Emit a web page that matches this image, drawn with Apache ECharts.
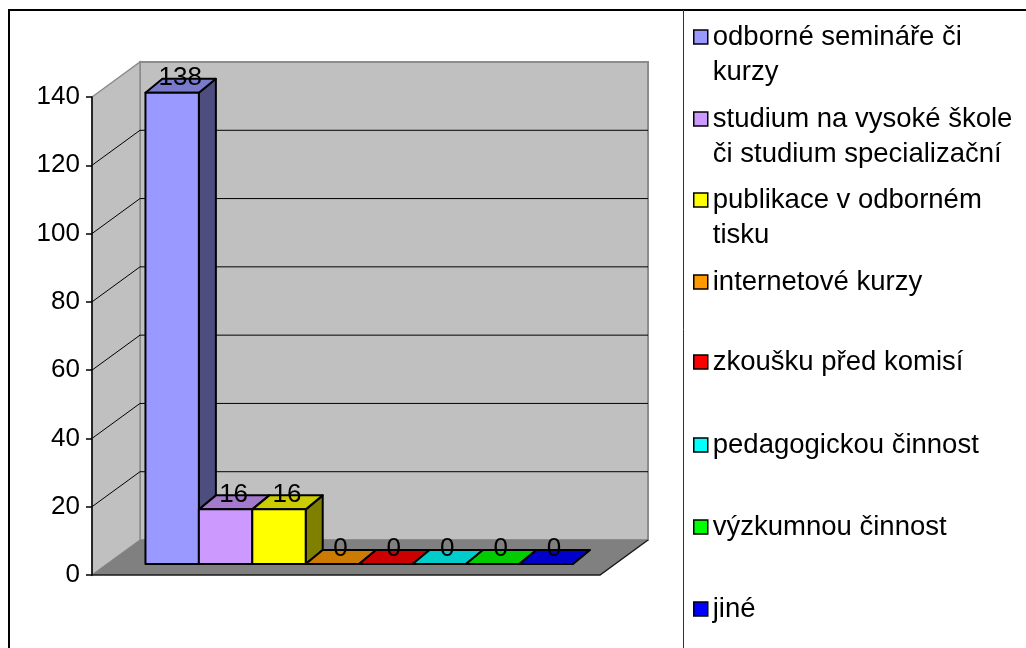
<!DOCTYPE html>
<html>
<head>
<meta charset="utf-8">
<script src="https://cdn.jsdelivr.net/npm/echarts@6/dist/echarts.min.js"></script>
<style>
  html, body { margin: 0; padding: 0; background: #fff; }
  #chart { width: 1026px; height: 648px; }
</style>
</head>
<body>
<div id="chart"></div>
<script>
var categories = [
  'odborné semináře či kurzy',
  'studium na vysoké škole či studium specializační',
  'publikace v odborném tisku',
  'internetové kurzy',
  'zkoušku před komisí',
  'pedagogickou činnost',
  'výzkumnou činnost',
  'jiné'
]
var legendLabels = [
  'odborné semináře či\nkurzy',
  'studium na vysoké škole\nči studium specializační',
  'publikace v odborném\ntisku',
  'internetové kurzy',
  'zkoušku před komisí',
  'pedagogickou činnost',
  'výzkumnou činnost',
  'jiné'
]
var values = [138, 16, 16, 0, 0, 0, 0, 0]
var colors = ['#9999FF', '#CC99FF', '#FFFF00', '#FF9900', '#FF0000', '#00FFFF', '#00FF00', '#0000FF']
var yTicks = [0, 20, 40, 60, 80, 100, 120, 140]

var FONT = 'Liberation Sans, Arial, sans-serif'
var DEPTH = [48, -35]   // full depth of the floor / walls
var PLANE = [15, -11]   // where the bar fronts sit
var BAR_DEPTH = [17, -14]

function shade(hex, k) {
  var c = echarts.color.parse(hex)
  return 'rgb(' + Math.round(c[0] * k) + ',' + Math.round(c[1] * k) + ',' + Math.round(c[2] * k) + ')'
}

function renderWalls(params, api) {
  var cs = params.coordSys
  var x0 = cs.x, x1 = cs.x + cs.width
  var yb = api.coord([0, 0])[1]
  var yt = api.coord([0, 140])[1]
  var dx = DEPTH[0], dy = DEPTH[1]
  var kids = []
  // back wall
  kids.push({ type: 'rect', shape: { x: x0 + dx, y: yt + dy, width: cs.width, height: yb - yt },
    style: { fill: '#c0c0c0', stroke: '#8c8c8c', lineWidth: 2 } })
  // left wall
  kids.push({ type: 'polygon', shape: { points: [[x0, yt], [x0 + dx, yt + dy], [x0 + dx, yb + dy], [x0, yb]] },
    style: { fill: '#c0c0c0', stroke: '#8c8c8c', lineWidth: 1.5 } })
  // floor
  kids.push({ type: 'polygon', shape: { points: [[x0, yb], [x0 + dx, yb + dy], [x1 + dx, yb + dy], [x1, yb]] },
    style: { fill: '#808080', stroke: null } })
  kids.push({ type: 'polyline', shape: { points: [[x0, yb], [x1, yb], [x1 + dx, yb + dy]] },
    style: { stroke: '#1a1a1a', lineWidth: 1.5, fill: null } })
  yTicks.forEach(function (t) {
    if (t === 0 || t === 140) return
    var y = api.coord([0, t])[1]
    kids.push({ type: 'polyline', shape: { points: [[x0, y], [x0 + dx, y + dy], [x1 + dx, y + dy]] },
      style: { stroke: '#000', lineWidth: 1, fill: null } })
  })
  return { type: 'group', children: kids }
}

function makeBarRenderer(color) {
  return function (params, api) {
    var i = api.value(0), v = api.value(1)
    var w = api.size([1, 0])[0]
    var b = api.coord([i, 0]), t = api.coord([i, v])
    var l = b[0] - w / 2 + PLANE[0], r = b[0] + w / 2 + PLANE[0]
    var yb = b[1] + PLANE[1], yt = t[1] + PLANE[1]
    var bx = BAR_DEPTH[0], by = BAR_DEPTH[1]
    var st = { stroke: '#000', lineWidth: 2, lineJoin: 'round' }
    var kids = []
    kids.push({ type: 'polygon', shape: { points: [[r, yt], [r + bx, yt + by], [r + bx, yb + by], [r, yb]] },
      style: Object.assign({ fill: shade(color, 0.5) }, st) })
    kids.push({ type: 'polygon', shape: { points: [[l, yt], [l + bx, yt + by], [r + bx, yt + by], [r, yt]] },
      style: Object.assign({ fill: shade(color, 0.8) }, st) })
    if (yb - yt > 0.5) {
      kids.push({ type: 'rect', shape: { x: l, y: yt, width: r - l, height: yb - yt },
        style: Object.assign({ fill: color }, st) })
    }
    kids.push({ type: 'text', style: {
      text: String(v), x: (l + r) / 2 + 8, y: yt + by - 1,
      align: 'center', verticalAlign: 'middle',
      fontSize: 26, fontFamily: FONT, fill: '#000'
    } })
    return { type: 'group', children: kids }
  }
}

var series = [{
  name: 'walls', type: 'custom', renderItem: renderWalls, data: [[0, 0]],
  clip: false, silent: true, z: 1
}]
categories.forEach(function (name, i) {
  series.push({
    name: name, type: 'custom', renderItem: makeBarRenderer(colors[i]),
    data: [[i, values[i]]], clip: false, z: 2,
    itemStyle: { color: colors[i] }
  })
})

var legendCenters = [37, 119, 200, 282, 362, 445, 527, 609]
var legends = categories.map(function (name, i) {
  var twoLine = legendLabels[i].indexOf('\n') >= 0
  // an empty first line keeps the icon level with the first text line
  var label = twoLine ? '\n' + legendLabels[i] : legendLabels[i]
  return {
    data: [{ name: name, icon: 'rect',
      itemStyle: { color: colors[i], borderColor: '#000', borderWidth: 1.5 } }],
    orient: 'vertical', left: 693, top: legendCenters[i] - (twoLine ? 52.5 : 17.5),
    padding: 0, itemWidth: 14, itemHeight: 14, selectedMode: false,
    formatter: function () { return label },
    textStyle: { fontSize: 27.5, lineHeight: 35, fontFamily: FONT, color: '#000' }
  }
})

var chart = echarts.init(document.getElementById('chart'))
chart.setOption({
  animation: false,
  backgroundColor: '#fff',
  grid: { left: 92, right: 426, top: 97, bottom: 73 },
  xAxis: { type: 'value', min: -1.22, max: 8.29, show: false },
  yAxis: {
    type: 'value', min: 0, max: 140, interval: 20, z: 10,
    axisLine: { show: true, onZero: false, lineStyle: { color: '#000', width: 1.5 } },
    axisTick: { show: true, length: 6, lineStyle: { color: '#000', width: 1.5 } },
    axisLabel: { fontSize: 26, fontFamily: FONT, color: '#000', margin: 12 },
    splitLine: { show: false }
  },
  legend: legends,
  graphic: [
    { type: 'rect', shape: { x: 9, y: 10, width: 1100, height: 700 },
      style: { fill: null, stroke: '#000', lineWidth: 2 }, z: 100 },
    { type: 'line', shape: { x1: 683.5, y1: 10, x2: 683.5, y2: 660 },
      style: { stroke: '#333', lineWidth: 1 }, z: 100 }
  ],
  series: series
})
</script>
</body>
</html>
